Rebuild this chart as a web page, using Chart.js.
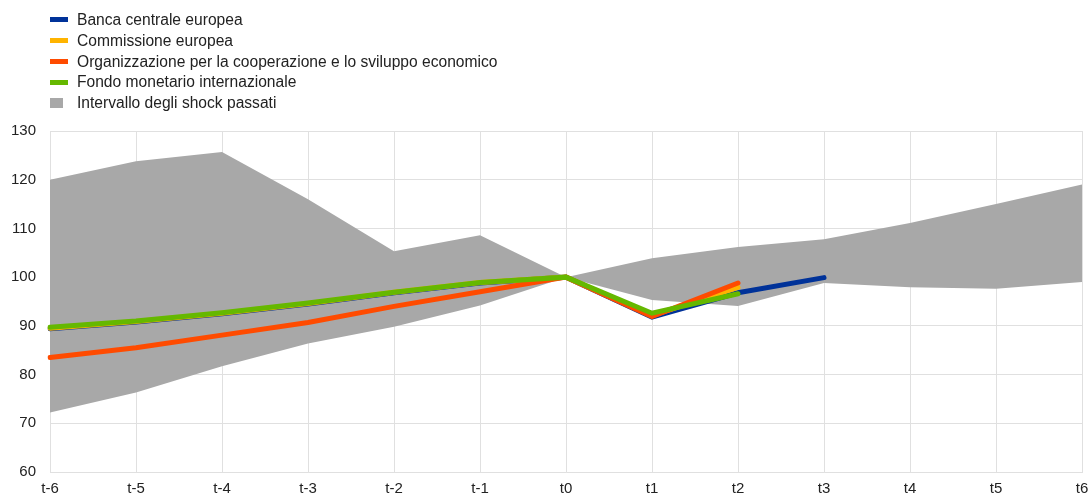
<!DOCTYPE html>
<html>
<head>
<meta charset="utf-8">
<script src="https://cdn.jsdelivr.net/npm/chart.js@4.4.1/dist/chart.umd.min.js"></script>
<style>
  body { margin: 0; background: #fff; }
  #wrap { position: relative; width: 1089px; height: 497px; }
  #legend { position: absolute; left: 50px; top: 10px; font: 15.6px "Liberation Sans", Arial, sans-serif; color: #222; }
  #legend div { height: 20.8px; line-height: 20.8px; white-space: nowrap; }
  #legend span.sw { display: inline-block; width: 18px; height: 5px; vertical-align: middle; margin-right: 9px; position: relative; top: -1px; }
  #legend span.sq { display: inline-block; width: 13px; height: 10px; vertical-align: middle; margin-right: 14px; position: relative; top: -1px; }
</style>
</head>
<body>
<div id="wrap">
  <canvas id="myChart" width="1089" height="497"></canvas>
  <div id="legend"></div>
</div>
<script>
const labels = ['t-6', 't-5', 't-4', 't-3', 't-2', 't-1', 't0', 't1', 't2', 't3', 't4', 't5', 't6'];

const bce   = [89.4, 90.8, 92.5, 94.5, 96.8, 98.8, 100, 91.8, 96.8, 99.9, null, null, null];
const ce    = [89.5, 90.9, 92.6, 94.6, 96.9, 98.9, 100, 92.1, 97.9, null, null, null, null];
const ocse  = [83.5, 85.5, 88.1, 90.7, 94.0, 97.0, 100, 91.9, 98.8, null, null, null, null];
const fmi   = [89.7, 91.0, 92.7, 94.7, 96.9, 98.9, 100, 92.6, 96.6, null, null, null, null];
const bandHigh = [120.0, 123.8, 125.7, 116.0, 105.3, 108.6, 100, 103.9, 106.2, 107.8, 111.1, 115.0, 119.0];
const bandLow  = [72.2, 76.3, 81.7, 86.4, 89.8, 94.2, 100, 95.3, 94.1, 98.8, 97.9, 97.6, 99.0];

const ctx = document.getElementById('myChart').getContext('2d');
const fontFamily = '"Liberation Sans", Arial, sans-serif';

function line(label, data, color, order) {
  return {
    label: label, data: data, borderColor: color, backgroundColor: color,
    borderWidth: 5, pointRadius: 0, fill: false, tension: 0,
    borderCapStyle: 'round', borderJoinStyle: 'miter', order: order
  };
}

const myChart = new Chart(ctx, {
  type: 'line',
  data: {
    labels: labels,
    datasets: [
      line('Banca centrale europea', bce, '#003299', 3),
      line('Commissione europea', ce, '#ffb400', 2),
      line('Organizzazione per la cooperazione e lo sviluppo economico', ocse, '#ff4b00', 1),
      line('Fondo monetario internazionale', fmi, '#65b800', 0),
      {
        label: 'Intervallo degli shock passati', data: bandHigh,
        borderWidth: 0, borderColor: 'rgba(0,0,0,0)', backgroundColor: '#a8a8a8',
        pointRadius: 0, fill: '+1', tension: 0, order: 5
      },
      {
        label: 'low', data: bandLow,
        borderWidth: 0, borderColor: 'rgba(0,0,0,0)', backgroundColor: '#a8a8a8',
        pointRadius: 0, fill: false, tension: 0, order: 6
      }
    ]
  },
  options: {
    responsive: false,
    animation: false,
    layout: { padding: { top: 131, left: 10, right: 0, bottom: 0 } },
    plugins: {
      legend: { display: false },
      tooltip: { enabled: false }
    },
    scales: {
      x: {
        grid: { color: '#e0e0e0', drawTicks: false },
        border: { color: '#e0e0e0' },
        ticks: { color: '#222', font: { family: fontFamily, size: 15 }, padding: 8, maxRotation: 0, autoSkip: false },
        afterFit: (scale) => { scale.height = 25; scale.paddingLeft = 0; scale.paddingRight = 7; }
      },
      y: {
        min: 60, max: 130,
        grid: { color: '#e0e0e0', drawTicks: false },
        border: { color: '#e0e0e0' },
        ticks: { stepSize: 10, color: '#222', font: { family: fontFamily, size: 15 }, padding: 14 },
        afterFit: (scale) => { scale.width = 40; }
      }
    }
  }
});

// legend built from the chart datasets
const legend = document.getElementById('legend');
myChart.data.datasets.slice(0, 5).forEach((ds, i) => {
  const row = document.createElement('div');
  const sw = document.createElement('span');
  sw.className = i === 4 ? 'sq' : 'sw';
  sw.style.background = ds.backgroundColor;
  row.appendChild(sw);
  row.appendChild(document.createTextNode(ds.label));
  legend.appendChild(row);
});
</script>
</body>
</html>
